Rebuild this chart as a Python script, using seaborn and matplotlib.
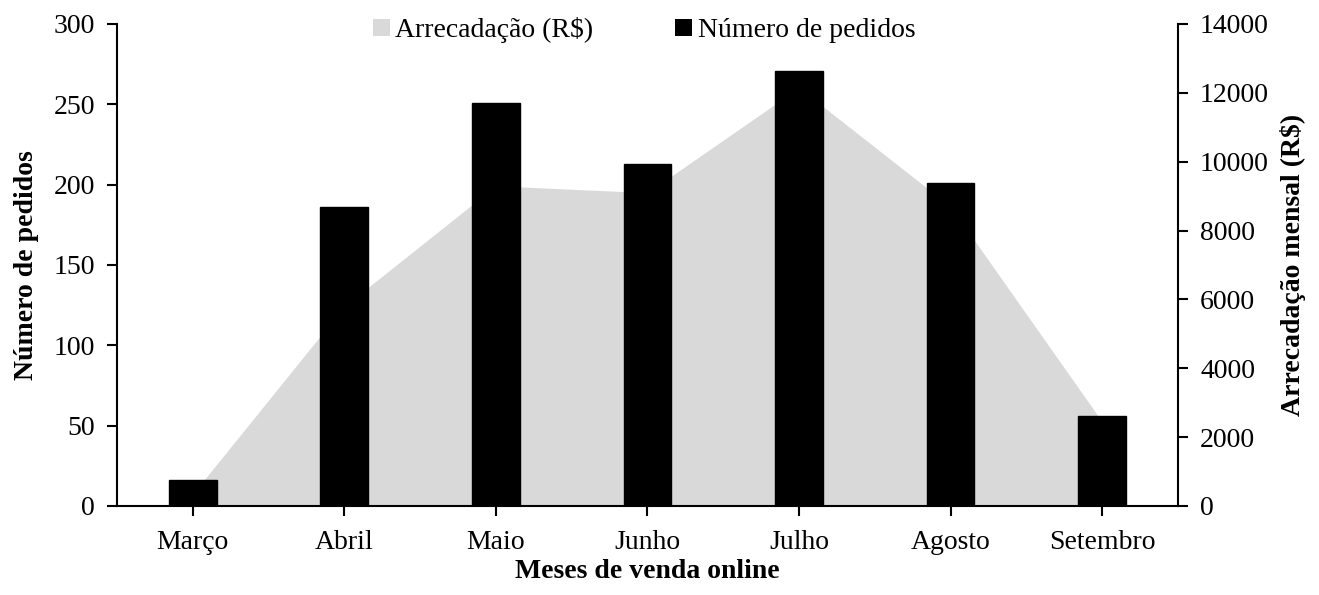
import matplotlib
matplotlib.use("Agg")
import matplotlib.pyplot as plt
import seaborn as sns
import pandas as pd
from matplotlib.patches import Patch

meses = ["Março", "Abril", "Maio", "Junho", "Julho", "Agosto", "Setembro"]
pedidos = [16, 186, 251, 213, 271, 201, 56]
arrecadacao = [350, 5800, 9300, 9100, 12150, 8700, 2450]
left_ticks = [0, 50, 100, 150, 200, 250, 300]
right_ticks = [0, 2000, 4000, 6000, 8000, 10000, 12000, 14000]

sns.set_theme(style="ticks")
plt.rcParams["font.family"] = ["Liberation Serif", "DejaVu Serif"]
plt.rcParams["font.size"] = 20
plt.rcParams["text.color"] = "black"
plt.rcParams["axes.labelcolor"] = "black"
plt.rcParams["xtick.color"] = "black"
plt.rcParams["ytick.color"] = "black"

FS = 20
df = pd.DataFrame({"mes": meses, "pedidos": pedidos, "arrec": arrecadacao})

fig = plt.figure(figsize=(13.19, 5.95), dpi=100)
ax = fig.add_axes([0.0887, 0.1496, 0.8043, 0.8101])
ax2 = ax.twinx()

# area on right axis (behind)
x = list(range(len(meses)))
ax2.fill_between(x, 0, df["arrec"], color="#D9D9D9", linewidth=0)
ax2.set_ylim(0, 14000)
ax2.set_yticks(right_ticks)
ax2.set_yticklabels([str(t) for t in right_ticks], fontsize=FS)
ax2.set_ylabel("Arrecadação mensal (R$)", fontsize=FS, fontweight="bold", labelpad=8)

# bars on left axis (front)
ax.set_zorder(ax2.get_zorder() + 1)
ax.patch.set_visible(False)
sns.barplot(data=df, x="mes", y="pedidos", color="black", width=0.315,
            saturation=1, ax=ax, edgecolor="black")
ax.set_xlim(-0.5, 6.5)
ax.set_ylim(0, 300)
ax.set_yticks(left_ticks)
ax.set_yticklabels([str(t) for t in left_ticks], fontsize=FS)
ax.tick_params(axis="x", labelsize=FS, pad=10)
ax.set_ylabel("Número de pedidos", fontsize=FS, fontweight="bold", labelpad=10)
ax.set_xlabel("Meses de venda online", fontsize=FS, fontweight="bold", labelpad=3)

for a in (ax, ax2):
    a.spines["top"].set_visible(False)
    for s in a.spines.values():
        s.set_linewidth(1.5)
        s.set_color("black")
    a.tick_params(width=1.5, length=7, color="black", direction="out")
    a.tick_params(axis="y", pad=9)
ax2.spines["left"].set_visible(False)
ax2.spines["bottom"].set_visible(False)
ax.spines["right"].set_visible(False)

handles = [Patch(facecolor="#D9D9D9", edgecolor="none"),
           Patch(facecolor="black", edgecolor="none")]
ax.legend(handles, ["Arrecadação (R$)", "Número de pedidos"], ncol=2,
          loc="upper center", bbox_to_anchor=(0.497, 1.066), frameon=False,
          fontsize=FS, handlelength=0.6, handleheight=0.6, handletextpad=0.2,
          columnspacing=2.95)

fig.savefig("out.png", dpi=100)
